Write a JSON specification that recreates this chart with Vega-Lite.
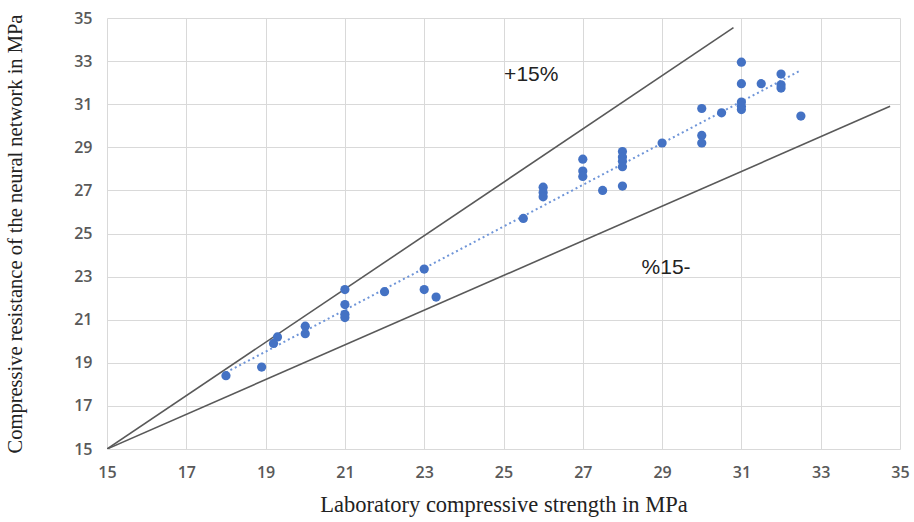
{
  "$schema": "https://vega.github.io/schema/vega-lite/v6.json",
  "width": 793,
  "height": 431,
  "autosize": {"type": "none"},
  "padding": {"left": 107, "top": 18, "right": 14, "bottom": 73},
  "background": "white",
  "config": {
    "view": {"stroke": null},
    "axis": {
      "grid": true,
      "gridColor": "#d9d9d9",
      "gridWidth": 1,
      "domain": false,
      "ticks": false,
      "labelFlush": false,
      "labelFont": "Open Sans",
      "labelFontWeight": 600,
      "labelFontSize": 16,
      "labelColor": "#595959",
      "titleFont": "Liberation Serif",
      "titleFontWeight": "normal",
      "titleColor": "#222222"
    }
  },
  "datasets": {
    "points": [
      {"lab": 18, "nn": 18.4},
      {"lab": 18.9, "nn": 18.8},
      {"lab": 19.3, "nn": 20.2},
      {"lab": 19.2, "nn": 19.9},
      {"lab": 20, "nn": 20.7},
      {"lab": 20, "nn": 20.35},
      {"lab": 21, "nn": 22.4},
      {"lab": 21, "nn": 21.7},
      {"lab": 21, "nn": 21.25},
      {"lab": 21, "nn": 21.1},
      {"lab": 22, "nn": 22.3},
      {"lab": 23, "nn": 23.35},
      {"lab": 23, "nn": 22.4},
      {"lab": 23.3, "nn": 22.05},
      {"lab": 25.5, "nn": 25.7},
      {"lab": 26, "nn": 27.15},
      {"lab": 26, "nn": 26.9},
      {"lab": 26, "nn": 26.7},
      {"lab": 27, "nn": 28.45},
      {"lab": 27, "nn": 27.9},
      {"lab": 27, "nn": 27.65},
      {"lab": 27.5, "nn": 27.0},
      {"lab": 28, "nn": 28.8},
      {"lab": 28, "nn": 28.55},
      {"lab": 28, "nn": 28.35},
      {"lab": 28, "nn": 28.1},
      {"lab": 28, "nn": 27.2},
      {"lab": 29, "nn": 29.2},
      {"lab": 30, "nn": 30.8},
      {"lab": 30, "nn": 29.55},
      {"lab": 30, "nn": 29.2},
      {"lab": 30.5, "nn": 30.6},
      {"lab": 31, "nn": 32.95},
      {"lab": 31, "nn": 31.95},
      {"lab": 31, "nn": 31.1},
      {"lab": 31, "nn": 30.9},
      {"lab": 31, "nn": 30.75},
      {"lab": 31.5, "nn": 31.95},
      {"lab": 32, "nn": 32.4},
      {"lab": 32, "nn": 31.9},
      {"lab": 32, "nn": 31.75},
      {"lab": 32.5, "nn": 30.45}
    ],
    "bounds": [
      {"line": "+15%", "lab": 15, "nn": 15},
      {"line": "+15%", "lab": 30.8, "nn": 34.55},
      {"line": "-15%", "lab": 15, "nn": 15},
      {"line": "-15%", "lab": 34.75, "nn": 30.9}
    ],
    "notes": [
      {"text": "+15%", "lab": 25.7, "nn": 32.35},
      {"text": "%15-", "lab": 29.1, "nn": 23.4}
    ]
  },
  "layer": [
    {
      "data": {"name": "bounds"},
      "mark": {"type": "line", "color": "#595959", "strokeWidth": 1.6, "clip": true},
      "encoding": {
        "x": {"field": "lab", "type": "quantitative", "scale": {"domain": [15, 35], "nice": false}, "axis": {"values": [15, 17, 19, 21, 23, 25, 27, 29, 31, 33, 35], "title": "Laboratory compressive strength in MPa", "labelPadding": 15, "titlePadding": 13, "titleFontSize": 22.5}},
        "y": {"field": "nn", "type": "quantitative", "scale": {"domain": [15, 35], "nice": false}, "axis": {"values": [15, 17, 19, 21, 23, 25, 27, 29, 31, 33, 35], "title": "Compressive resistance of the neural network in MPa", "labelPadding": 15, "titlePadding": 48, "titleFontSize": 20.5}},
        "detail": {"field": "line"}
      }
    },
    {
      "data": {"name": "points"},
      "transform": [{"regression": "nn", "on": "lab"}],
      "mark": {"type": "line", "color": "#6f95d8", "strokeWidth": 2, "strokeDash": [2, 3]},
      "encoding": {
        "x": {"field": "lab", "type": "quantitative"},
        "y": {"field": "nn", "type": "quantitative"}
      }
    },
    {
      "data": {"name": "points"},
      "mark": {"type": "circle", "color": "#4472c4", "opacity": 1, "size": 85},
      "encoding": {
        "x": {"field": "lab", "type": "quantitative"},
        "y": {"field": "nn", "type": "quantitative"}
      }
    },
    {
      "data": {"name": "notes"},
      "mark": {"type": "text", "font": "Liberation Sans", "fontSize": 21, "fontWeight": 500, "color": "#222222", "align": "center", "baseline": "middle"},
      "encoding": {
        "x": {"field": "lab", "type": "quantitative"},
        "y": {"field": "nn", "type": "quantitative"},
        "text": {"field": "text"}
      }
    }
  ]
}
